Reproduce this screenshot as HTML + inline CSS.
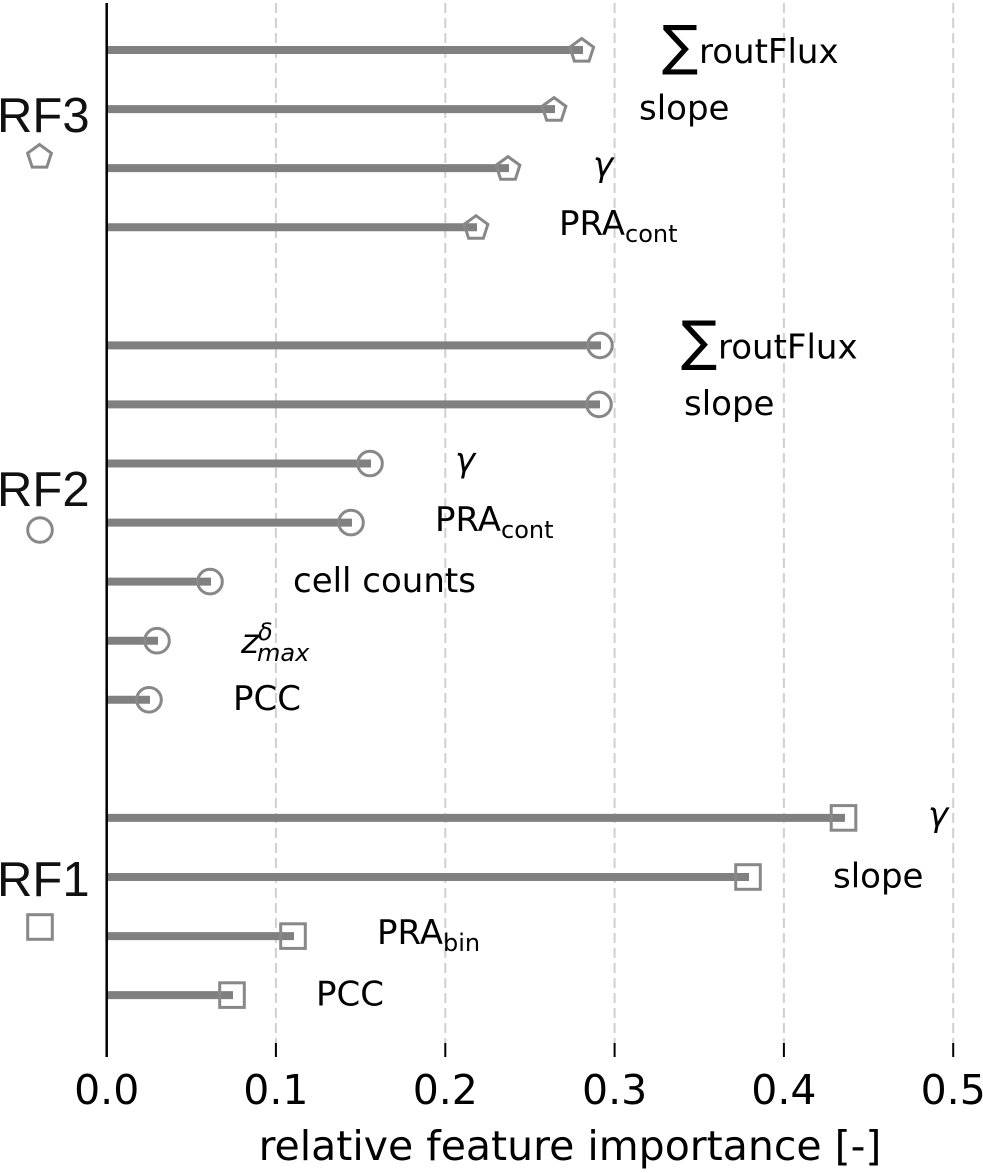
<!DOCTYPE html>
<html>
<head>
<meta charset="utf-8">
<style>
html,body{margin:0;padding:0;background:#fff;}
svg{display:block;}
.f{font-family:"DejaVu Sans","Liberation Sans",sans-serif;font-size:34px;fill:#000;}
.fi{font-family:"DejaVu Sans","Liberation Sans",sans-serif;font-style:italic;font-size:34px;fill:#000;}
.sub{font-family:"DejaVu Sans","Liberation Sans",sans-serif;font-size:24px;fill:#000;}
.subi{font-family:"DejaVu Sans","Liberation Sans",sans-serif;font-style:italic;font-size:24px;fill:#000;}
.sig{font-family:"DejaVu Sans","Liberation Sans",sans-serif;font-size:54px;fill:#000;}
.tk{font-family:"DejaVu Sans","Liberation Sans",sans-serif;font-size:41px;fill:#000;text-anchor:middle;}
.rf{font-family:"Liberation Sans",Arial,sans-serif;font-size:49px;fill:#111;}
</style>
</head>
<body>
<svg width="983" height="1173" viewBox="0 0 983 1173" xmlns="http://www.w3.org/2000/svg">
<rect x="0" y="0" width="983" height="1173" fill="#fff"/>

<!-- grid -->
<g stroke="#d0d0d0" stroke-width="2" stroke-dasharray="10,5">
  <line x1="275.9" y1="3" x2="275.9" y2="1043"/>
  <line x1="445.3" y1="3" x2="445.3" y2="1043"/>
  <line x1="614.6" y1="3" x2="614.6" y2="1043"/>
  <line x1="783.9" y1="3" x2="783.9" y2="1043"/>
  <line x1="953.2" y1="3" x2="953.2" y2="1043"/>
</g>

<!-- bars -->
<g stroke="#808080" stroke-width="8">
  <line x1="106.7" y1="50" x2="583" y2="50"/>
  <line x1="106.7" y1="109.1" x2="555" y2="109.1"/>
  <line x1="106.7" y1="168.1" x2="509" y2="168.1"/>
  <line x1="106.7" y1="227.2" x2="477" y2="227.2"/>

  <line x1="106.7" y1="345.4" x2="601" y2="345.4"/>
  <line x1="106.7" y1="404.4" x2="600" y2="404.4"/>
  <line x1="106.7" y1="463.5" x2="371" y2="463.5"/>
  <line x1="106.7" y1="522.6" x2="352" y2="522.6"/>
  <line x1="106.7" y1="581.6" x2="211" y2="581.6"/>
  <line x1="106.7" y1="640.7" x2="158" y2="640.7"/>
  <line x1="106.7" y1="699.8" x2="150" y2="699.8"/>

  <line x1="106.7" y1="817.9" x2="845" y2="817.9"/>
  <line x1="106.7" y1="877" x2="749" y2="877"/>
  <line x1="106.7" y1="936.1" x2="294" y2="936.1"/>
  <line x1="106.7" y1="995.1" x2="233" y2="995.1"/>
</g>

<!-- markers -->
<defs>
  <polygon id="pent" points="0,-12.5 11.89,-3.86 7.35,10.11 -7.35,10.11 -11.89,-3.86" fill="none" stroke="#888" stroke-width="3"/>
  <circle id="circ" cx="0" cy="0" r="12.3" fill="none" stroke="#888" stroke-width="3"/>
  <rect id="sq" x="-12.3" y="-12.3" width="24.6" height="24.6" fill="none" stroke="#888" stroke-width="3"/>
</defs>
<use href="#pent" x="581.7" y="51"/>
<use href="#pent" x="554" y="110.1"/>
<use href="#pent" x="508" y="169.1"/>
<use href="#pent" x="476" y="228.2"/>
<use href="#pent" x="39.5" y="157"/>

<use href="#circ" x="600" y="345.4"/>
<use href="#circ" x="599" y="404.4"/>
<use href="#circ" x="370" y="463.5"/>
<use href="#circ" x="351" y="522.6"/>
<use href="#circ" x="210" y="581.6"/>
<use href="#circ" x="157" y="640.7"/>
<use href="#circ" x="149" y="699.8"/>
<use href="#circ" x="40" y="530"/>

<use href="#sq" x="843.5" y="817.9"/>
<use href="#sq" x="748" y="877"/>
<use href="#sq" x="293" y="936.1"/>
<use href="#sq" x="232" y="995.1"/>
<use href="#sq" x="40" y="927"/>

<!-- spine & ticks -->
<line x1="106.7" y1="3" x2="106.7" y2="1057" stroke="#000" stroke-width="2.5"/>
<g stroke="#000" stroke-width="2">
  <line x1="275.9" y1="1043" x2="275.9" y2="1057"/>
  <line x1="445.3" y1="1043" x2="445.3" y2="1057"/>
  <line x1="614.6" y1="1043" x2="614.6" y2="1057"/>
  <line x1="783.9" y1="1043" x2="783.9" y2="1057"/>
  <line x1="953.2" y1="1043" x2="953.2" y2="1057"/>
</g>

<!-- tick labels -->
<text class="tk" x="106.7" y="1104">0.0</text>
<text class="tk" x="275.9" y="1104">0.1</text>
<text class="tk" x="445.3" y="1104">0.2</text>
<text class="tk" x="614.6" y="1104">0.3</text>
<text class="tk" x="783.9" y="1104">0.4</text>
<text class="tk" x="953.2" y="1104">0.5</text>
<text class="tk" x="570" y="1160">relative feature importance [-]</text>

<!-- group labels -->
<text class="rf" x="-3" y="132">RF3</text>
<text class="rf" x="-3" y="506">RF2</text>
<text class="rf" x="-3" y="896">RF1</text>

<!-- RF3 feature labels -->
<text class="sig" x="662" y="64">∑</text>
<text class="f" x="699" y="63">routFlux</text>
<text class="f" x="639" y="119.5">slope</text>
<text class="fi" x="593" y="176">γ</text>
<text class="f" x="559" y="235">PRA<tspan class="sub" dy="7">cont</tspan></text>

<!-- RF2 feature labels -->
<text class="sig" x="681" y="359.4">∑</text>
<text class="f" x="718" y="358.4">routFlux</text>
<text class="f" x="684" y="414.8">slope</text>
<text class="fi" x="455" y="471.5">γ</text>
<text class="f" x="435" y="531">PRA<tspan class="sub" dy="7">cont</tspan></text>
<text class="f" x="293" y="592">cell counts</text>
<text class="fi" x="241" y="653">z</text>
<text class="subi" x="258" y="640">δ</text>
<text class="subi" x="257" y="661">max</text>
<text class="f" x="233" y="710">PCC</text>

<!-- RF1 feature labels -->
<text class="fi" x="928" y="826">γ</text>
<text class="f" x="833" y="887.4">slope</text>
<text class="f" x="377" y="944">PRA<tspan class="sub" dy="7">bin</tspan></text>
<text class="f" x="316" y="1005.5">PCC</text>
</svg>
</body>
</html>
